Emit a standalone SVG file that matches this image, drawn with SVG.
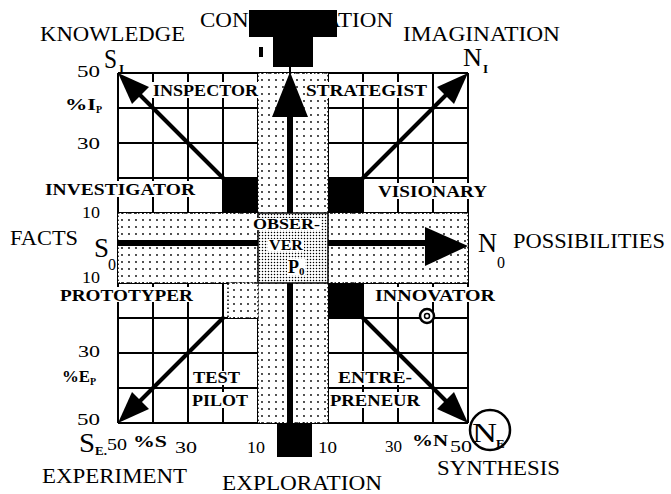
<svg xmlns="http://www.w3.org/2000/svg" width="671" height="494" viewBox="0 0 671 494">
<defs>
<pattern id="dots" width="7" height="7" patternUnits="userSpaceOnUse"><rect width="7" height="7" fill="#fff"/><circle cx="3" cy="3" r="0.9" fill="#000"/></pattern>
<pattern id="dense" width="3" height="3" patternUnits="userSpaceOnUse"><rect width="3" height="3" fill="#fff"/><circle cx="1.5" cy="1.5" r="0.75" fill="#000"/></pattern>
</defs>
<style>
text{font-family:"Liberation Serif","Times New Roman",serif;fill:#000}
.lbl{font-size:20px}
.num{font-size:17px}
.role{font-size:17px;font-weight:bold}
.sub{font-size:13px;font-weight:bold}
.big{font-size:28px}
.grid{stroke:#000;stroke-width:2;fill:none}
.band{fill:url(#dots);stroke:#000;stroke-width:1.5;stroke-dasharray:1.5 2.5}
.bg{fill:#fff}
.blk{fill:#000}
.diag{stroke:#000;stroke-width:4;stroke-linecap:round}
</style>
<rect width="671" height="494" fill="#fff"/>

<g id="grid">
<path class="grid" d="M118 73V423M153 73V423M188 73V423M223 73V423M258 73V423M293 73V423M328 73V423M363 73V423M398 73V423M433 73V423M468 73V423M118 73H468M118 108H468M118 143H468M118 178H468M118 213H468M118 248H468M118 283H468M118 318H468M118 353H468M118 388H468M118 423H468"/>
</g>

<g id="bands">
<rect class="band" x="118" y="213" width="350" height="70"/>
<rect class="band" x="258" y="73" width="70" height="350"/>
<rect class="band" x="228" y="283" width="30" height="35"/>
<rect class="blk" x="223" y="178" width="35" height="35"/>
<rect class="blk" x="328" y="178" width="35" height="35"/>
<rect class="blk" x="328" y="283" width="35" height="35"/>
</g>

<g id="connectors">
<rect class="blk" x="118" y="240" width="310" height="6"/>
<polygon class="blk" points="425,227 468,246 425,266"/>
<rect class="blk" x="287" y="112" width="6" height="101"/>
<rect class="blk" x="287" y="283" width="6" height="140"/>
<polygon class="blk" points="290,72 272,117 308,117"/>
<line class="diag" x1="223" y1="178" x2="138" y2="93"/>
<polygon class="blk" points="118,73 149,87 132,104"/>
<line class="diag" x1="363" y1="178" x2="448" y2="93"/>
<polygon class="blk" points="468,73 454,104 437,87"/>
<line class="diag" x1="223" y1="318" x2="138" y2="403"/>
<polygon class="blk" points="118,423 132,392 149,409"/>
<line class="diag" x1="363" y1="318" x2="448" y2="403"/>
<polygon class="blk" points="468,423 437,409 454,392"/>
<line x1="290" y1="66" x2="290" y2="74" stroke="#000" stroke-width="2"/>
</g>

<g id="observer">
<rect x="258" y="213" width="70" height="70" fill="url(#dense)" stroke="#000" stroke-width="1.5"/>
<rect class="bg" x="252" y="218" width="69" height="12"/>
<text class="role" x="253" y="229" textLength="67" lengthAdjust="spacingAndGlyphs" style="font-size:14px">OBSER-</text>
<rect class="bg" x="268" y="239" width="36" height="12"/>
<text class="role" x="269" y="250" textLength="34" lengthAdjust="spacingAndGlyphs" style="font-size:14px">VER</text>
<rect class="bg" x="287" y="259" width="18" height="16"/>
<text class="role" x="288" y="273" style="font-size:18px">P</text>
<text x="299" y="275" style="font-size:11px;font-weight:bold">0</text>
</g>

<g id="concentration">
<text class="lbl" x="200" y="27" textLength="193" lengthAdjust="spacingAndGlyphs">CONCENTRATION</text>
<path class="blk" d="M249 10H337V37H313V67H273V37H249Z"/>
<rect class="blk" x="259" y="47" width="4" height="10"/>
</g>

<g id="exploration">
<rect class="blk" x="277" y="423" width="35" height="34"/>
<text class="lbl" x="222" y="490" textLength="160" lengthAdjust="spacingAndGlyphs">EXPLORATION</text>
</g>

<g id="knowledge">
<text class="lbl" x="40" y="41" textLength="145" lengthAdjust="spacingAndGlyphs">KNOWLEDGE</text>
<text class="big" x="104" y="68" textLength="13" lengthAdjust="spacingAndGlyphs">S</text>
<text class="sub" x="119" y="73">I</text>
</g>

<g id="imagination">
<text class="lbl" x="403" y="41" textLength="157" lengthAdjust="spacingAndGlyphs">IMAGINATION</text>
<text class="big" x="463" y="66" textLength="19" lengthAdjust="spacingAndGlyphs" style="font-size:25px">N</text>
<text class="sub" x="483" y="73">I</text>
</g>

<g id="facts">
<text class="lbl" x="10" y="245" textLength="68" lengthAdjust="spacingAndGlyphs">FACTS</text>
<text class="big" x="94" y="257" textLength="15" lengthAdjust="spacingAndGlyphs">S</text>
<text x="108" y="270" style="font-size:16px">0</text>
</g>

<g id="possibilities">
<text class="big" x="478" y="252" textLength="19" lengthAdjust="spacingAndGlyphs">N</text>
<text x="497" y="268" style="font-size:16px">0</text>
<text class="lbl" x="513" y="248" textLength="152" lengthAdjust="spacingAndGlyphs">POSSIBILITIES</text>
</g>

<g id="experiment">
<text class="big" x="79" y="452" textLength="16" lengthAdjust="spacingAndGlyphs">S</text>
<text class="sub" x="95" y="455">E.</text>
<text class="lbl" x="42" y="483" textLength="145" lengthAdjust="spacingAndGlyphs">EXPERIMENT</text>
</g>

<g id="synthesis">
<circle cx="490" cy="430" r="20" fill="none" stroke="#000" stroke-width="2.5"/>
<text class="big" x="472" y="442" textLength="25" lengthAdjust="spacingAndGlyphs">N</text>
<text class="sub" x="496" y="448">E</text>
<text class="lbl" x="437" y="475" textLength="123" lengthAdjust="spacingAndGlyphs">SYNTHESIS</text>
</g>

<g id="axes">
<text class="num" x="77" y="77" textLength="23" lengthAdjust="spacingAndGlyphs">50</text>
<text class="role" x="65" y="110" textLength="31" lengthAdjust="spacingAndGlyphs" style="font-size:16px">%I</text>
<text x="96" y="113" style="font-size:10px;font-weight:bold">P</text>
<text class="num" x="77" y="149" textLength="23" lengthAdjust="spacingAndGlyphs">30</text>
<text class="num" x="82" y="218" textLength="18" lengthAdjust="spacingAndGlyphs">10</text>
<text class="num" x="82" y="283" textLength="18" lengthAdjust="spacingAndGlyphs">10</text>
<text class="num" x="78" y="357" textLength="22" lengthAdjust="spacingAndGlyphs">30</text>
<text class="role" x="62" y="382" textLength="28" lengthAdjust="spacingAndGlyphs" style="font-size:16px">%E</text>
<text x="90" y="385" style="font-size:10px;font-weight:bold">P</text>
<text class="num" x="77" y="425" textLength="23" lengthAdjust="spacingAndGlyphs">50</text>
<text class="num" x="107" y="450" textLength="20" lengthAdjust="spacingAndGlyphs">50</text>
<text class="role" x="133" y="447" textLength="34" lengthAdjust="spacingAndGlyphs">%S</text>
<text class="num" x="175" y="453" textLength="22" lengthAdjust="spacingAndGlyphs">30</text>
<text class="num" x="247" y="453" textLength="18" lengthAdjust="spacingAndGlyphs">10</text>
<text class="num" x="318" y="453" textLength="19" lengthAdjust="spacingAndGlyphs">10</text>
<text class="num" x="385" y="452" textLength="17" lengthAdjust="spacingAndGlyphs">30</text>
<text class="role" x="412" y="446" textLength="36" lengthAdjust="spacingAndGlyphs">%N</text>
<text class="num" x="450" y="452" textLength="22" lengthAdjust="spacingAndGlyphs">50</text>
</g>

<g id="inspector"><rect class="bg" x="152" y="82" width="107" height="16"/><text class="role" x="153" y="96" textLength="105" lengthAdjust="spacingAndGlyphs">INSPECTOR</text></g>
<g id="strategist"><rect class="bg" x="305" y="82" width="123" height="16"/><text class="role" x="306" y="96" textLength="121" lengthAdjust="spacingAndGlyphs">STRATEGIST</text></g>
<g id="investigator"><rect class="bg" x="44" y="181" width="152" height="16"/><text class="role" x="45" y="195" textLength="150" lengthAdjust="spacingAndGlyphs">INVESTIGATOR</text></g>
<g id="visionary"><rect class="bg" x="377" y="183" width="111" height="16"/><text class="role" x="378" y="197" textLength="109" lengthAdjust="spacingAndGlyphs">VISIONARY</text></g>
<g id="prototyper"><rect class="bg" x="59" y="287" width="135" height="15"/><text class="role" x="60" y="301" textLength="133" lengthAdjust="spacingAndGlyphs">PROTOTYPER</text></g>
<g id="innovator"><rect class="bg" x="374" y="287" width="122" height="15"/><text class="role" x="375" y="301" textLength="120" lengthAdjust="spacingAndGlyphs">INNOVATOR</text>
<circle cx="427" cy="316" r="7" fill="#fff" stroke="#000" stroke-width="2.5"/><circle cx="427" cy="316" r="2.5" fill="none" stroke="#000" stroke-width="1.5"/></g>
<g id="testpilot"><rect class="bg" x="192" y="371" width="49" height="14"/><text class="role" x="193" y="383" textLength="47" lengthAdjust="spacingAndGlyphs">TEST</text>
<rect class="bg" x="191" y="392" width="58" height="16"/><text class="role" x="192" y="406" textLength="56" lengthAdjust="spacingAndGlyphs">PILOT</text></g>
<g id="entrepreneur"><rect class="bg" x="337" y="371" width="76" height="14"/><text class="role" x="338" y="383" textLength="74" lengthAdjust="spacingAndGlyphs">ENTRE-</text>
<rect class="bg" x="329" y="392" width="92" height="16"/><text class="role" x="330" y="406" textLength="90" lengthAdjust="spacingAndGlyphs">PRENEUR</text></g>
</svg>
